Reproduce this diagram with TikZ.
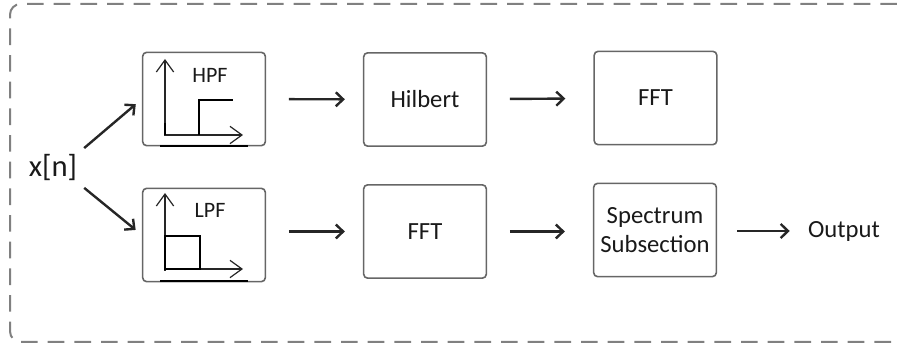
\documentclass[tikz,border=0pt]{standalone}
\usepackage{fontspec}
\setmainfont{Carlito}
\usetikzlibrary{arrows.meta, positioning, calc}

\begin{document}
\begin{tikzpicture} [x = 0.75pt, y = -0.75pt, line width = 0.9pt,
  blk/.style = {draw = black!60, rounded corners = 3pt, line width = 1.2pt, minimum width = 92pt, minimum height = 70pt, text = black!90, font = \fontsize{18.5}{22}\selectfont, align = center},
  flow/.style = {-{Straight Barb[length = 5.5pt, width = 10.5pt]}, line width = 1.8pt, black!85},
  axis/.style = {-{Straight Barb[length = 9pt, width = 13pt]}, line width = 0.9pt, black!85}]

\useasboundingbox (0,0) rectangle (897,352);

% outer frame
\draw [black!50, line width = 1.5pt, dash pattern = on 12.5pt off 7.5pt, rounded corners = 8pt] (897,4) -- (10,4) -- (10,342) -- (897,342);

\node [text = black!90, font = \fontsize{23}{26}\selectfont] (xn) at (53,168) {x[n]};

\node [blk] (hpf) at (204,99) {};
\node [blk] (lpf) at (204,235) {};
\node [blk] (hilbert) at (425,99.5) {Hilbert};
\node [blk] (fft1) at (655.5,98) {FFT};
\node [blk] (fft2) at (425,231.5) {FFT};
\node [blk] (spec) at (655,230) {Spectrum\\Subsection};
\node [text = black!90, font = \fontsize{18.5}{22}\selectfont] (out) at (844,231) {Output};

% filter sketches
\node [text = black!90, font = \fontsize{16.5}{20}\selectfont] (hpftxt) at (210,75) {HPF};
\draw [axis] (165,136) -- (165,59);
\draw [axis] (165,135) -- (243,135);
\draw (199,135) -- (199,100) -- (233,100);
\draw [line width = 1.6pt] (165,123) -- (165,135);
\draw [line width = 2pt] (160,146) -- (248,146);

\node [text = black!90, font = \fontsize{16.5}{20}\selectfont] (lpftxt) at (210,210) {LPF};
\draw [axis] (165,271) -- (165,193);
\draw [axis] (165,269) -- (243,269);
\draw (165,236) rectangle (200,269);
\draw [line width = 1.6pt] (165,258) -- (165,269);
\draw [line width = 1pt] (160,281) -- (248,281);

% connectors
\draw [flow, shorten <= 2pt, shorten >= 6pt] (xn.north east) -- (hpf.west);
\draw [flow, shorten <= 2pt, shorten >= 6pt] (xn.south east) -- (lpf.west);

\draw [flow, shorten <= 17pt, shorten >= 13.5pt] (hpf) -- (hilbert);
\draw [flow, shorten <= 17pt, shorten >= 21pt] (hilbert) -- (fft1);
\draw [flow, shorten <= 17pt, shorten >= 13.5pt] (lpf.east |- fft2) -- (fft2.west);
\draw [flow, shorten <= 17pt, shorten >= 21pt] (fft2.east) -- (fft2.east -| spec.west);
\draw [flow, shorten <= 15pt, shorten >= 10pt] (spec.east |- out) -- (out.west);

\end{tikzpicture}
\end{document}
